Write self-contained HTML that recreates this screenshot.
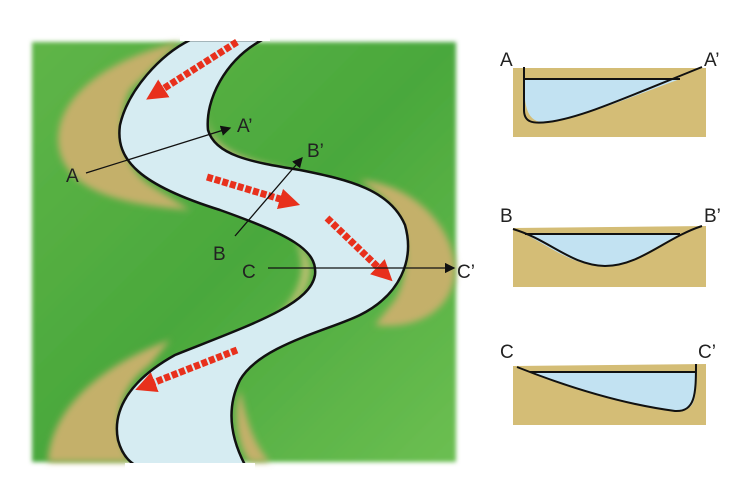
<!DOCTYPE html>
<html><head><style>body{margin:0;background:#fff}svg{display:block}</style></head>
<body>
<svg width="751" height="492" viewBox="0 0 751 492" xmlns="http://www.w3.org/2000/svg" font-family="Liberation Sans, sans-serif">
<defs>
<filter id="bl"><feGaussianBlur stdDeviation="3.5"/></filter>
<filter id="b2"><feGaussianBlur stdDeviation="2"/></filter>
<linearGradient id="g" x1="0" y1="0" x2="1" y2="1"><stop offset="0" stop-color="#5fb548"/><stop offset="0.5" stop-color="#4aa83c"/><stop offset="1" stop-color="#6cbf52"/></linearGradient>
<marker id="ar" markerWidth="8" markerHeight="8" refX="7" refY="4" orient="auto"><path d="M0,0 L8,4 L0,8 Z" fill="#111"/></marker>
<marker id="rd" markerWidth="3" markerHeight="3" refX="1.5" refY="1.5" orient="auto"><path d="M0,0 L3,1.5 L0,3 Z" fill="#e8301c"/></marker>
</defs>
<rect x="32" y="42" width="424" height="420" fill="url(#g)" filter="url(#b2)"/>
<g filter="url(#bl)" fill="#c4b06a">
<path d="M180,42 C120,55 58,90 58,140 C60,190 120,205 190,210 L150,185 C120,165 115,120 130,90 Z"/>
<path d="M360,180 C420,185 458,235 455,275 C450,315 410,330 375,325 L395,300 C412,270 410,220 380,195 Z"/>
<path d="M170,340 C100,365 50,410 48,462 L130,462 C112,430 115,390 150,365 Z"/>
<path d="M207,105 C205,140 225,160 300,170 L240,165 C215,155 205,135 207,105 Z" fill="#c4b878"/>
<path d="M295,240 C330,270 300,310 260,330 C300,300 310,270 295,240 Z" fill="#b8c070"/>
<path d="M240,390 C232,420 240,450 250,462 L270,462 C250,440 245,410 240,390 Z"/>
</g>
<path d="M190,40 C160,55 128,90 120,125 C115,160 140,185 220,210 C290,235 318,250 315,275 C310,305 250,325 175,355 C130,380 112,410 118,440 C122,455 130,462 135,465 L245,465 C232,440 225,410 240,380 C260,345 330,330 360,315 C400,295 415,260 405,225 C390,190 350,180 300,170 C250,162 215,155 208,130 C205,100 225,60 262,40 Z" fill="#d6ecf2" stroke="#111" stroke-width="2.5"/>
<rect x="180" y="36" width="90" height="5" fill="#fff"/>
<rect x="125" y="463" width="130" height="10" fill="#fff"/>
<g stroke="#e8301c" stroke-width="7" stroke-dasharray="6,2" fill="none" marker-end="url(#rd)">
<line x1="237" y1="42" x2="155" y2="94"/>
<line x1="207" y1="177" x2="290" y2="202"/>
<line x1="327" y1="218" x2="385" y2="274"/>
<line x1="237" y1="350" x2="145" y2="386"/>
</g>
<g stroke="#111" stroke-width="1.3" marker-end="url(#ar)">
<line x1="86" y1="173" x2="230" y2="128"/>
<line x1="235" y1="236" x2="302" y2="158"/>
<line x1="268" y1="268" x2="454" y2="268"/>
</g>
<g font-size="19" fill="#222">
<text x="66" y="182">A</text><text x="237" y="132">A’</text>
<text x="307" y="157">B’</text><text x="213" y="260">B</text>
<text x="242" y="278">C</text><text x="457" y="278">C’</text>
<text x="500" y="66">A</text><text x="704" y="66">A’</text>
<text x="500" y="222">B</text><text x="704" y="222">B’</text>
<text x="500" y="358">C</text><text x="698" y="358">C’</text>
</g>
<g fill="#d4bd76">
<path d="M513,68 L522,68 L706,68 L706,137 L513,137 Z"/>
<path d="M513,228 L706,226 L706,287 L513,287 Z"/>
<path d="M513,366 L706,364 L706,425 L513,425 Z"/>
</g>
<g stroke="#111" stroke-width="2" fill="#c2e2f2">
<path d="M524,79 L680,79 C610,105 580,118 548,122 C528,124 524,110 524,79 Z" stroke="none"/>
<path d="M524,67 L524,110 C524,122 532,124 548,122 C580,118 620,100 702,67" fill="none"/>
<line x1="524" y1="79" x2="680" y2="79"/>
<path d="M525,234 L680,234 C650,250 630,265 605,266 C575,266 555,250 525,234 Z" stroke="none"/>
<path d="M513,229 C550,240 570,265 605,266 C640,266 665,238 702,226" fill="none"/>
<line x1="525" y1="234" x2="680" y2="234"/>
<path d="M530,372 L695,372 C697,400 695,412 675,411 C630,405 580,390 530,372 Z" stroke="none"/>
<path d="M517,367 C580,392 630,405 675,411 C695,412 696,395 696,364" fill="none"/>
<line x1="530" y1="372" x2="695" y2="372"/>
</g>
</svg>
</body></html>
